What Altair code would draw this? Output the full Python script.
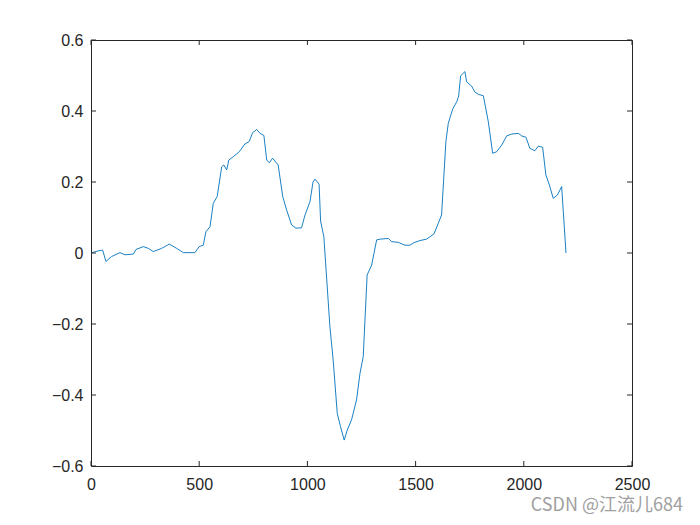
import altair as alt
import pandas as pd

x_vals = [
    0, 20, 42, 54, 69, 95, 134, 157, 196, 208,
    242, 265, 288, 326, 362, 396, 427, 480, 500, 519,
    531, 550, 565, 583, 604, 614, 627, 637, 657, 685,
    711, 731, 747, 766, 781, 799, 812, 824, 839, 865,
    886, 904, 927, 947, 973, 989, 1012, 1026, 1035, 1054,
    1061, 1076, 1104, 1119, 1138, 1153, 1170, 1184, 1204, 1227,
    1243, 1258, 1276, 1297, 1320, 1336, 1374, 1389, 1420, 1451,
    1474, 1492, 1520, 1551, 1585, 1605, 1620, 1640, 1651, 1671,
    1690, 1699, 1708, 1728, 1736, 1759, 1774, 1790, 1813, 1836,
    1856, 1874, 1898, 1921, 1944, 1975, 1990, 2010, 2028, 2051,
    2067, 2087, 2102, 2118, 2136, 2155, 2175, 2195,
]
y_vals = [
    0.0, 0.004, 0.007, 0.008, -0.024, -0.01, 0.001, -0.005, -0.003, 0.01,
    0.018, 0.013, 0.004, 0.013, 0.025, 0.013, 0.001, 0.001, 0.018, 0.022,
    0.06, 0.074, 0.14, 0.159, 0.243, 0.248, 0.234, 0.262, 0.271, 0.285,
    0.307, 0.314, 0.339, 0.348, 0.337, 0.331, 0.262, 0.254, 0.267, 0.248,
    0.159, 0.121, 0.079, 0.07, 0.071, 0.107, 0.145, 0.2, 0.208, 0.194,
    0.09, 0.046, -0.207, -0.301, -0.452, -0.489, -0.527, -0.499, -0.47, -0.414,
    -0.339, -0.292, -0.062, -0.034, 0.037, 0.039, 0.041, 0.032, 0.03, 0.022,
    0.022, 0.029, 0.035, 0.039, 0.054, 0.084, 0.107, 0.314, 0.365, 0.405,
    0.426, 0.442, 0.499, 0.511, 0.482, 0.47, 0.453, 0.447, 0.443, 0.37,
    0.281, 0.285, 0.304, 0.33, 0.335, 0.337, 0.33, 0.326, 0.295, 0.288,
    0.301, 0.298, 0.22, 0.192, 0.154, 0.163, 0.187, 0.0,
]
x_ticks = [0, 500, 1000, 1500, 2000, 2500]
y_ticks = [-0.6, -0.4, -0.2, 0.0, 0.2, 0.4, 0.6]
watermark = "CSDN @江流儿684"

W, H = 541, 426
TL = 5
FONT = "Liberation Sans"
AX = "#262626"

df = pd.DataFrame({"x": x_vals, "y": y_vals, "i": range(len(x_vals))})
xt = pd.DataFrame({"x": x_ticks})
yt = pd.DataFrame({"y": y_ticks})

xscale = alt.Scale(domain=[0, 2500], nice=False, zero=False)
yscale = alt.Scale(domain=[-0.6, 0.6], nice=False, zero=False)

xaxis = alt.Axis(values=x_ticks, format="d", grid=False, domain=False, ticks=False,
                 labelFont=FONT, labelFontSize=16, labelColor=AX, labelPadding=10,
                 labelFlush=False, labelOverlap=False, title=None)
yaxis = alt.Axis(values=y_ticks, grid=False, domain=False, ticks=False,
                 labelFont=FONT, labelFontSize=16, labelColor=AX, labelPadding=8,
                 labelFlush=False, labelOverlap=False, title=None,
                 labelExpr="datum.value == 0 ? '0' : format(datum.value, '.1f')")

line = alt.Chart(df).mark_line(color="#0072BD", strokeWidth=0.9).encode(
    x=alt.X("x:Q", scale=xscale, axis=xaxis),
    y=alt.Y("y:Q", scale=yscale, axis=yaxis),
    order="i:Q",
)

xt_bottom = alt.Chart(xt).mark_rule(color=AX, strokeWidth=1).encode(
    x=alt.X("x:Q", scale=xscale), y=alt.value(H), y2=alt.value(H - TL))
xt_top = alt.Chart(xt).mark_rule(color=AX, strokeWidth=1).encode(
    x=alt.X("x:Q", scale=xscale), y=alt.value(0), y2=alt.value(TL))
yt_left = alt.Chart(yt).mark_rule(color=AX, strokeWidth=1).encode(
    y=alt.Y("y:Q", scale=yscale), x=alt.value(0), x2=alt.value(TL))
yt_right = alt.Chart(yt).mark_rule(color=AX, strokeWidth=1).encode(
    y=alt.Y("y:Q", scale=yscale), x=alt.value(W), x2=alt.value(W - TL))

wm = alt.Chart(pd.DataFrame({"t": [watermark]})).mark_text(
    font="Noto Sans CJK SC", fontSize=18, color="#A0A0A0", align="right", baseline="alphabetic"
).encode(text="t:N", x=alt.value(592), y=alt.value(471))

chart = alt.layer(line, xt_bottom, xt_top, yt_left, yt_right, wm).properties(
    width=W, height=H,
    autosize=alt.AutoSizeParams(type="none"),
    padding={"left": 83, "top": 32, "right": 60, "bottom": 51},
).configure(background="white").configure_view(stroke=AX, strokeWidth=1)

chart.save("out.html", embed_options={"renderer": "svg", "actions": False})
